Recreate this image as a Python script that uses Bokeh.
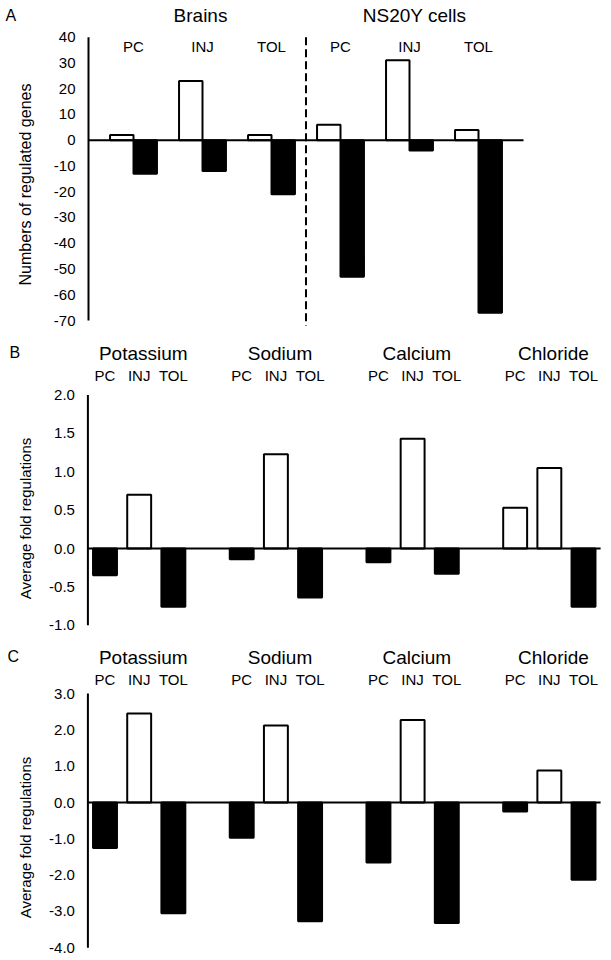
import math
from bokeh.plotting import figure
from bokeh.models import Range1d, FixedTicker, PrintfTickFormatter, LinearAxis, ColumnDataSource
from bokeh.layouts import column
from bokeh.embed import file_html
from bokeh.resources import INLINE
from bokeh.core.properties import value

FONT = "Liberation Sans"

# ---------------- data ----------------
# Panel A: numbers of regulated genes (up = white, down = black)
a_groups = ["Brains", "NS20Y cells"]
a_conditions = ["PC", "INJ", "TOL"]
a_up = [2, 23, 2, 6, 31, 4]
a_down = [-13, -12, -21, -53, -4, -67]
a_yticks = [40, 30, 20, 10, 0, -10, -20, -30, -40, -50, -60, -70]
a_ylabel = "Numbers of regulated genes"

# Panels B and C: average fold regulations per ion channel family
ions = ["Potassium", "Sodium", "Calcium", "Chloride"]
conditions = ["PC", "INJ", "TOL"]
b_values = [-0.35, 0.70, -0.76, -0.14, 1.23, -0.64, -0.18, 1.43, -0.33, 0.53, 1.05, -0.76]
c_values = [-1.25, 2.45, -3.05, -0.97, 2.12, -3.27, -1.65, 2.27, -3.32, -0.25, 0.88, -2.13]
b_yticks = [2.0, 1.5, 1.0, 0.5, 0.0, -0.5, -1.0]
c_yticks = [3.0, 2.0, 1.0, 0.0, -1.0, -2.0, -3.0, -4.0]
bc_ylabel = "Average fold regulations"

W = 611


class Mapper:
    """pixel <-> data helper for one panel (pixels measured in page coordinates)."""
    def __init__(self, x_ref_px, x_ref, ppu_x, top_px, h, zero_px, ppu_y):
        self.x_ref_px, self.x_ref, self.ppu_x = x_ref_px, x_ref, ppu_x
        self.top_px, self.h, self.zero_px, self.ppu_y = top_px, h, zero_px, ppu_y

    def x(self, px):
        return self.x_ref + (px - self.x_ref_px) / self.ppu_x

    def y(self, py):
        return (self.zero_px - py) / self.ppu_y

    def ranges(self):
        return (Range1d(self.x(0), self.x(W)),
                Range1d(self.y(self.top_px + self.h), self.y(self.top_px)))


def base_figure(m, yticks, fmt, axis_x):
    xr, yr = m.ranges()
    p = figure(width=W, height=m.h, x_range=xr, y_range=yr, output_backend="svg",
               toolbar_location=None, x_axis_location=None, y_axis_location=None,
               min_border=0)
    p.grid.visible = False
    p.outline_line_color = None
    p.background_fill_color = "white"
    p.border_fill_color = "white"
    ax = LinearAxis(fixed_location=axis_x, ticker=FixedTicker(ticks=yticks),
                    formatter=PrintfTickFormatter(format=fmt))
    ax.axis_line_color = None
    ax.major_tick_line_color = None
    ax.minor_tick_line_color = None
    ax.major_tick_out = 0
    ax.major_tick_in = 0
    ax.major_label_standoff = 13
    ax.major_label_text_font = FONT
    ax.major_label_text_font_size = "15px"
    ax.major_label_text_color = "black"
    p.add_layout(ax, "left")
    p.segment(x0=[axis_x], y0=[yticks[0]], x1=[axis_x], y1=[yticks[-1]], line_color="black", line_width=2)
    return p


def add_text(p, xs, ys, texts, size, align="center", angle=0.0):
    p.text(x=xs, y=ys, text=texts, text_font=value(FONT), text_font_size=value(size),
           text_align=align, text_baseline="middle", text_color="black", angle=angle)


def add_bars(p, xs, vals, half):
    src = ColumnDataSource(dict(
        left=[x - half for x in xs], right=[x + half for x in xs],
        top=[max(v, 0) for v in vals], bottom=[min(v, 0) for v in vals],
        fill=["white" if v > 0 else "black" for v in vals]))
    p.quad(left="left", right="right", top="top", bottom="bottom", source=src,
           fill_color="fill", line_color="black", line_width=2)


# ---------------- Panel A ----------------
a_x = [i + 1 for i in range(len(a_up))]
mA = Mapper(133, a_x[0], 69.0, 0, 330, 139.7, 2.576)
axis_xA = mA.x(88)
pA = base_figure(mA, a_yticks, "%d", axis_xA)

half_w = 0.34
add_bars(pA, [x - half_w / 2 for x in a_x], a_up, half_w / 2)
add_bars(pA, [x + half_w / 2 for x in a_x], a_down, half_w / 2)
pA.segment(x0=[axis_xA], y0=[0], x1=[mA.x(523)], y1=[0], line_color="black", line_width=2)
div_x = (a_x[2] + a_x[3]) / 2
pA.segment(x0=[div_x], y0=[a_yticks[0]], x1=[div_x], y1=[a_yticks[-1] - 2], line_color="black",
           line_width=2, line_dash="8 4")
add_text(pA, [mA.x(200), mA.x(414)], [mA.y(15)] * 2, a_groups, "19px")
add_text(pA, a_x, [mA.y(46)] * 6, a_conditions * 2, "15px")
add_text(pA, [mA.x(5)], [mA.y(15)], ["A"], "16px", align="left")
add_text(pA, [mA.x(25)], [mA.y(184)], [a_ylabel], "16px", angle=math.pi / 2)

# ---------------- Panels B and C ----------------
bc_pos = [gi * (len(conditions) + 1) + ci for gi in range(len(ions)) for ci in range(len(conditions))]
group_centers = [sum(bc_pos[g * 3:(g + 1) * 3]) / 3 for g in range(len(ions))]


def ion_panel(top, h, zero_px, ppu_y, vals, yticks, letter, label_py, title_py, letter_px):
    m = Mapper(104.5, bc_pos[0], 34.18, top, h, zero_px, ppu_y)
    axis_x = bc_pos[0] - 0.5
    p = base_figure(m, yticks, "%.1f", axis_x)
    add_bars(p, bc_pos, vals, 0.35)
    p.segment(x0=[axis_x], y0=[0], x1=[bc_pos[-1] + 0.5], y1=[0], line_color="black", line_width=2)
    add_text(p, [g + 0.12 for g in group_centers], [m.y(title_py)] * len(ions), ions, "19px")
    add_text(p, bc_pos, [m.y(title_py + 22)] * len(bc_pos), conditions * len(ions), "15px")
    add_text(p, [m.x(letter_px)], [m.y(title_py - 1)], [letter], "16px", align="left")
    add_text(p, [m.x(25)], [m.y(label_py)], [bc_ylabel], "15px", angle=math.pi / 2)
    return p


pB = ion_panel(330, 304, 548, 76.7, b_values, b_yticks, "B", 518, 353, 9)
pC = ion_panel(634, 326, 802, 36.3, c_values, c_yticks, "C", 837, 657, 7)

layout = column(pA, pB, pC)
open("out.html", "w").write(file_html(layout, INLINE))
